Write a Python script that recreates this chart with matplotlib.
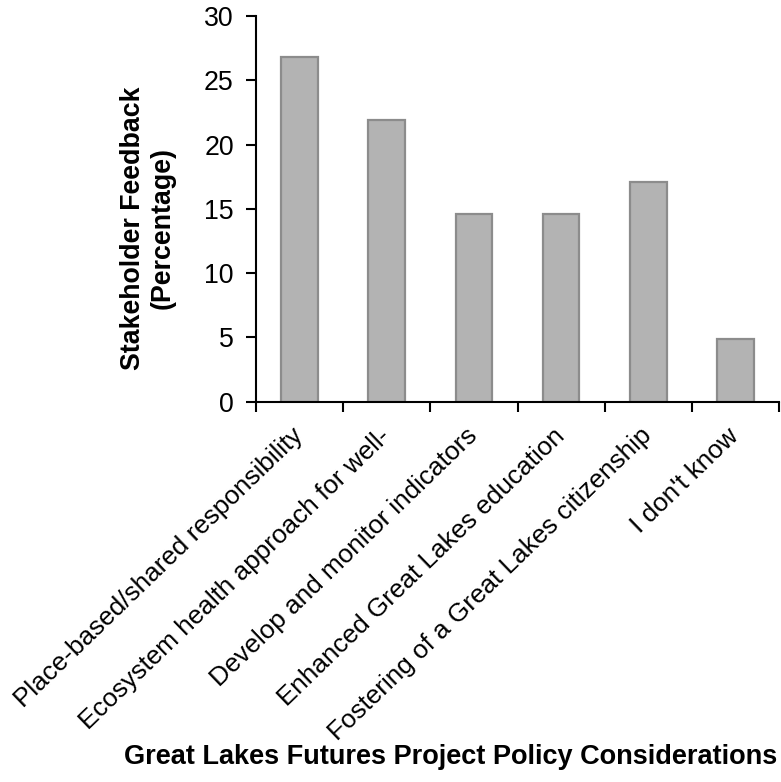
import matplotlib
matplotlib.use("Agg")
import matplotlib.pyplot as plt
import numpy as np

categories = [
    "Place-based/shared responsibility",
    "Ecosystem health approach for well-",
    "Develop and monitor indicators",
    "Enhanced Great Lakes education",
    "Fostering of a Great Lakes citizenship",
    "I don't know",
]
values = [26.8, 21.9, 14.6, 14.6, 17.1, 4.9]
yticks = [0, 5, 10, 15, 20, 25, 30]

plt.rcParams['font.family'] = ['Liberation Sans', 'DejaVu Sans']

W, H = 781, 782
fig = plt.figure(figsize=(W / 100, H / 100), dpi=100)
ax = fig.add_axes([256 / W, 1 - 401.7 / H, (779 - 256) / W, (401.7 - 16) / H])

x = np.arange(len(categories))
ax.bar(x, values, width=0.42, color="#b3b3b3", edgecolor="#8c8c8c", linewidth=1.6, zorder=2)

ax.set_xlim(-0.5, len(categories) - 0.5)
ax.set_ylim(0, 30)
ax.set_yticks(yticks)
ax.set_yticklabels([str(t) for t in yticks], fontsize=19.3)

ax.set_xticks(x)
ax.set_xticklabels(categories, rotation=44, ha="right", va="center", rotation_mode="anchor", fontsize=18.8)
ax.tick_params(axis="x", which="major", length=0, pad=22)
ax.set_xticks(np.arange(-0.5, len(categories)), minor=True)
ax.tick_params(axis="x", which="minor", length=7, width=1.5, direction="out")
ax.tick_params(axis="y", length=7, width=1.5, direction="out", pad=9)

for s in ["top", "right"]:
    ax.spines[s].set_visible(False)
for s in ["left", "bottom"]:
    ax.spines[s].set_linewidth(1.5)
    ax.spines[s].set_color("black")

fig.text(148 / W, 1 - 228 / H, "Stakeholder Feedback\n(Percentage)", rotation=90,
         ha="center", va="center", fontsize=19.3, fontweight="bold", linespacing=1.15)
fig.text(451 / W, 1 - 757 / H, "Great Lakes Futures Project Policy Considerations",
         ha="center", va="center", fontsize=19.5, fontweight="bold")

fig.savefig("out.png", dpi=100)
